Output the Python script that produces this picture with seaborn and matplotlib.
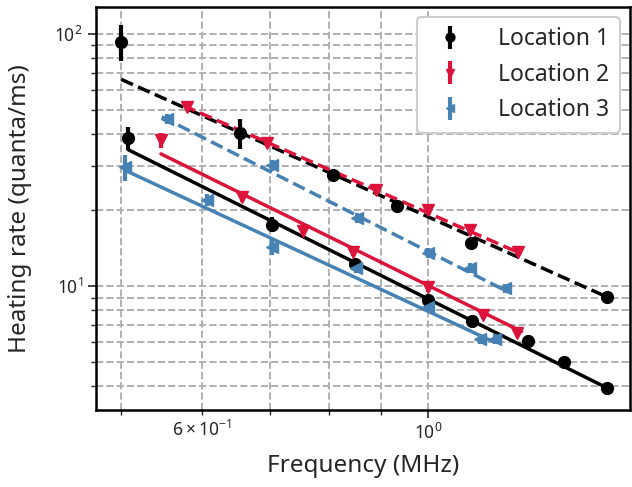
import numpy as np
import matplotlib
matplotlib.use("Agg")
import matplotlib.pyplot as plt
import seaborn as sns

# Location 1 (black circles)
loc1_up_x = [0.5, 0.654, 0.807, 0.932, 1.102, 1.498]
loc1_up_y = [93, 40.4, 27.5, 20.7, 14.8, 9.04]
loc1_up_err = [15, 5.5, 1.0, 0.7, 0.6, 0.4]
loc1_lo_x = [0.508, 0.703, 0.848, 1.0, 1.104, 1.253, 1.359, 1.498]
loc1_lo_y = [38.7, 17.5, 12.2, 8.8, 7.26, 6.05, 4.99, 3.94]
loc1_lo_err = [4.2, 1.2, 0.6, 0.4, 0.3, 0.2, 0.2, 0.15]

# Location 2 (red down triangles)
loc2_up_x = [0.580, 0.695, 0.889, 1.0, 1.099, 1.225]
loc2_up_y = [51.3, 36.9, 24.0, 20.0, 16.7, 13.6]
loc2_up_err = [1.5, 1.2, 0.8, 0.7, 0.6, 0.5]
loc2_lo_x = [0.547, 0.657, 0.754, 0.844, 1.0, 1.132, 1.222]
loc2_lo_y = [37.9, 22.5, 16.5, 13.6, 9.9, 7.67, 6.5]
loc2_lo_err = [2.5, 0.9, 0.6, 0.5, 0.4, 0.3, 0.25]

# Location 3 (blue left triangles)
loc3_up_x = [0.555, 0.703, 0.852, 1.0, 1.099, 1.19]
loc3_up_y = [46.0, 30.2, 18.6, 13.5, 11.8, 9.8]
loc3_up_err = [2.0, 1.5, 0.9, 0.6, 0.5, 0.4]
loc3_lo_x = [0.504, 0.607, 0.703, 0.850, 1.0, 1.124, 1.163]
loc3_lo_y = [29.6, 21.9, 14.3, 11.8, 8.25, 6.16, 6.16]
loc3_lo_err = [3.5, 1.2, 1.0, 0.5, 0.4, 0.3, 0.3]

# power-law fit lines (end points)
fit_x = {
    "l1_up": [0.5, 1.498], "l1_lo": [0.508, 1.498],
    "l2_up": [0.575, 1.235], "l2_lo": [0.547, 1.235],
    "l3_up": [0.548, 1.198], "l3_lo": [0.504, 1.16],
}
fit_y = {
    "l1_up": [66, 9.04], "l1_lo": [34.7, 3.94],
    "l2_up": [52, 13.4], "l2_lo": [33.4, 6.6],
    "l3_up": [46.9, 9.47], "l3_lo": [28.8, 6.0],
}

sns.set_style("white")
plt.rcParams['font.family'] = ['Noto Sans', 'DejaVu Sans']

fig, ax = plt.subplots(figsize=(6.32, 4.87), dpi=100)
fig.subplots_adjust(left=0.152, right=0.997, top=0.986, bottom=0.158)

colors = {"l1": "black", "l2": "#dc143c", "l3": "#4682b4"}
markers = {"l1": "o", "l2": "v", "l3": "<"}

for key, style in [("l1_up", "--"), ("l1_lo", "-"), ("l2_up", "--"),
                   ("l2_lo", "-"), ("l3_up", "--"), ("l3_lo", "-")]:
    sns.lineplot(x=fit_x[key], y=fit_y[key], ax=ax, color=colors[key[:2]],
                 linestyle=style, linewidth=2.5, legend=False)

series = [
    ("l1", loc1_up_x, loc1_up_y, loc1_up_err, "Location 1"),
    ("l1", loc1_lo_x, loc1_lo_y, loc1_lo_err, None),
    ("l2", loc2_up_x, loc2_up_y, loc2_up_err, "Location 2"),
    ("l2", loc2_lo_x, loc2_lo_y, loc2_lo_err, None),
    ("l3", loc3_up_x, loc3_up_y, loc3_up_err, "Location 3"),
    ("l3", loc3_lo_x, loc3_lo_y, loc3_lo_err, None),
]
for key, x, y, err, lab in series:
    ax.errorbar(x, y, yerr=err, fmt=markers[key], color=colors[key],
                ms=8.5, elinewidth=3, capsize=0, label=lab, zorder=3)

ax.set_xscale("log")
ax.set_yscale("log")
ax.set_xlim(0.4724, 1.578)
ax.set_ylim(3.22, 128)

ax.grid(True, which="both", linestyle="--", color="#b0b0b0", linewidth=1.4)
ax.tick_params(which="major", direction="out", length=6, width=1.2,
               labelsize=12.5, bottom=True, left=True)
ax.tick_params(which="minor", direction="out", length=3.5, width=1,
               labelsize=12.5, bottom=True, left=True)
for sp in ax.spines.values():
    sp.set_linewidth(1.8)
    sp.set_color("black")

ax.set_xlabel("Frequency (MHz)", fontsize=17.5, labelpad=8)
ax.set_ylabel("Heating rate (quanta/ms)", fontsize=17.5, labelpad=16)

leg = ax.legend(loc="upper right", fontsize=16.5, frameon=True,
                edgecolor="#cccccc", framealpha=1, borderpad=0.45,
                labelspacing=0.5, handletextpad=1.1, borderaxespad=0.45,
                markerscale=0.75)
leg.get_frame().set_linewidth(1.5)

plt.savefig("out.png", dpi=100)
